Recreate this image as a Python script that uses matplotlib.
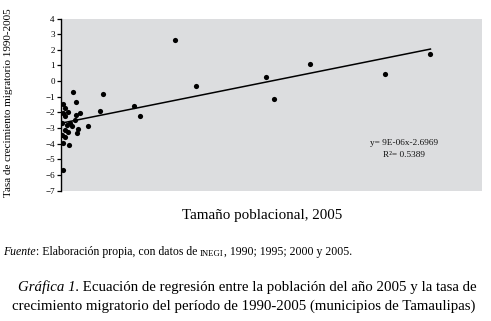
import matplotlib
matplotlib.use('Agg')
import matplotlib.pyplot as plt
import numpy as np

# poblacion 2005 (habitantes) y tasa de crecimiento migratorio 1990-2005
poblacion = [526900, 462200, 355800, 293000, 303900, 193000, 162600,
             104200, 112600, 60300, 55600, 38900,
             16700, 21400, 2400, 5700, 10400, 27100, 21400, 2400, 5700,
             20000, 12800, 1000, 9000, 15300, 24200, 5700, 10400, 22400,
             1000, 5700, 3300, 11400, 3300]
tasa = [1.72, 0.42, 1.06, 0.29, -1.14, -0.29, 2.60,
        -1.61, -2.23, -0.80, -1.89, -2.85,
        -0.69, -1.37, -1.46, -1.70, -1.96, -2.07, -2.18, -2.07, -2.22,
        -2.50, -2.68, -2.68, -2.83, -2.90, -3.09, -3.16, -3.27, -3.33,
        -3.48, -3.59, -3.99, -4.07, -5.66]
y_ticks = [4, 3, 2, 1, 0, -1, -2, -3, -4, -5, -6, -7]

# regresion lineal (Excel)
pendiente = 9e-06
intercepto = -2.6969
r2 = 0.5389

plt.rcParams['font.family'] = ['Liberation Serif', 'DejaVu Serif']

fig = plt.figure(figsize=(4.91, 3.21), dpi=100)
ax = fig.add_axes([61/491, 1 - 190.5/321, 420.7/491, 172/321])
ax.set_facecolor('#dcdddf')

ax.scatter(poblacion, tasa, s=14, color='black', zorder=3, linewidths=0)
xl = np.array([min(poblacion), max(poblacion)])
ax.plot(xl, pendiente * xl + intercepto, color='black', lw=1.1, zorder=2)

ax.set_xlim(0, 600000)
ax.set_ylim(-7, 4)
ax.set_yticks(y_ticks)
ax.set_xticks([])
for s in ['top', 'right', 'bottom']:
    ax.spines[s].set_visible(False)
ax.spines['left'].set_linewidth(1.0)
ax.tick_params(axis='y', direction='out', length=3, width=0.9, labelsize=6.5, pad=1.5)

ax.text(0.815, 0.241, 'y= 9E-06x-2.6969\n' f'R²= {r2}', transform=ax.transAxes,
        ha='center', va='center', fontsize=6.7, linespacing=1.6, color='#111111')

fig.text(9/491, 1 - 102.5/321, 'Tasa de crecimiento migratorio 1990-2005',
         rotation=90, ha='center', va='center', fontsize=8.0)
fig.text(262.5/491, 1 - 215/321, 'Tamaño poblacional, 2005',
         ha='center', va='center', fontsize=10.8)

# fuente, con INEGI en versalitas simuladas
t1 = fig.text(3/491, 1 - 258/321, 'Fuente', style='italic', fontsize=8.5, va='bottom')
t2 = ax.annotate(': Elaboración propia, con datos de ', xy=(1, 0), xycoords=t1,
                 fontsize=8.5, va='bottom', annotation_clip=False)
t3 = ax.annotate('INEGI', xy=(1, 0), xycoords=t2, fontsize=6.3, va='bottom',
                 annotation_clip=False)
ax.annotate(', 1990; 1995; 2000 y 2005.', xy=(1, 0), xycoords=t3,
            fontsize=8.5, va='bottom', annotation_clip=False)

# titulo de la grafica
c1 = fig.text(18/491, 1 - 294/321, 'Gráfica 1.', style='italic', fontsize=10.7,
              va='bottom')
ax.annotate(' Ecuación de regresión entre la población del año 2005 y la tasa de',
            xy=(1, 0), xycoords=c1, fontsize=10.7, va='bottom', annotation_clip=False)
fig.text(244/491, 1 - 313/321,
         'crecimiento migratorio del período de 1990-2005 (municipios de Tamaulipas)',
         ha='center', va='bottom', fontsize=10.7)

fig.savefig('out.png', dpi=100)
